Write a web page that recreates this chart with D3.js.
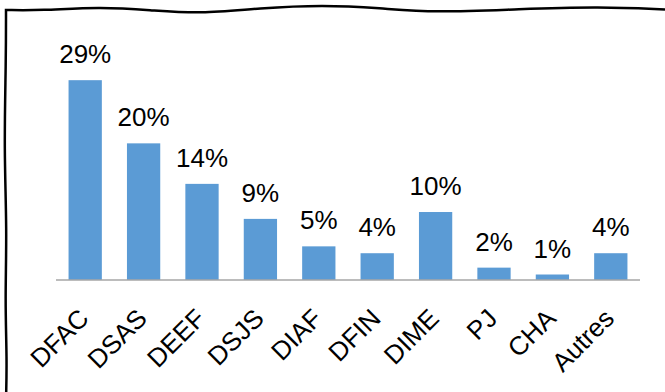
<!DOCTYPE html>
<html lang="fr">
<head>
	<meta charset="UTF-8">
	<title>Répartition par direction</title>
	<style>
		html, body {width: 100%; height: 100%; padding: 0; margin: 0; background: #fff;}
		svg {display: block;}
		.bar {fill: #5B9BD5;}
		.axis-line {stroke: #A6A6A6; stroke-width: 1.5px;}
		.frame {fill: none; stroke: #000; stroke-width: 2.5px;}
		text {font-family: "Liberation Sans", Arial, sans-serif; fill: #000;}
	</style>
	<script src="https://d3js.org/d3.v7.min.js"></script>
</head>
<body>
<script>
	// Data
	var categories = ['DFAC', 'DSAS', 'DEEF', 'DSJS', 'DIAF', 'DFIN', 'DIME', 'PJ', 'CHA', 'Autres'];
	var values = [29.1, 19.9, 14.0, 8.9, 4.9, 3.9, 9.9, 1.8, 0.8, 3.9];
	var valueLabels = ['29%', '20%', '14%', '9%', '5%', '4%', '10%', '2%', '1%', '4%'];

	var width = 665;
	var height = 392;
	var margin = {left: 56, right: 25, top: 74, bottom: 112};

	var svg = d3.select('body').append('svg')
		.attr('width', width)
		.attr('height', height);

	// hand drawn frame (top and left edges, the rest is cut off)
	var frame = d3.line().curve(d3.curveBasis);
	svg.append('path')
		.attr('class', 'frame')
		.attr('d', frame([[6, 400], [7, 360], [5, 300], [7, 230], [4, 150], [6, 60], [6, 10]]) +
			'L' + frame([[6, 10], [40, 10.5], [100, 7], [150, 10], [200, 14], [260, 8], [323, 5], [380, 8], [433, 12.7], [520, 9], [600, 6.7], [665, 9.5]]).slice(1));

	var x = d3.scaleBand()
		.domain(categories)
		.range([margin.left, width - margin.right])
		.paddingInner(0.43)
		.paddingOuter(0.215);

	var y = d3.scaleLinear()
		.domain([0, 30])
		.range([height - margin.bottom, margin.top]);

	var g = svg.append('g');

	g.selectAll('.bar')
		.data(values)
		.enter().append('rect')
		.attr('class', 'bar')
		.attr('x', function (d, i) { return x(categories[i]); })
		.attr('y', function (d) { return y(d); })
		.attr('width', x.bandwidth())
		.attr('height', function (d) { return y(0) - y(d); });

	g.append('line')
		.attr('class', 'axis-line')
		.attr('x1', margin.left)
		.attr('x2', width - margin.right)
		.attr('y1', y(0))
		.attr('y2', y(0));

	// value labels on top of bars
	g.selectAll('.value')
		.data(values)
		.enter().append('text')
		.attr('class', 'value')
		.attr('x', function (d, i) { return x(categories[i]) + x.bandwidth() / 2; })
		.attr('y', function (d) { return y(d) - 17; })
		.attr('text-anchor', 'middle')
		.style('font-size', '26px')
		.text(function (d, i) { return valueLabels[i]; });

	// rotated category labels
	g.selectAll('.cat')
		.data(categories)
		.enter().append('text')
		.attr('class', 'cat')
		.attr('text-anchor', 'end')
		.style('font-size', '26px')
		.attr('transform', function (d) {
			var cx = x(d) + x.bandwidth() / 2 + 5;
			return 'translate(' + cx + ',' + (y(0) + 40) + ') rotate(-45)';
		})
		.text(function (d) { return d; });
</script>
</body>
</html>
